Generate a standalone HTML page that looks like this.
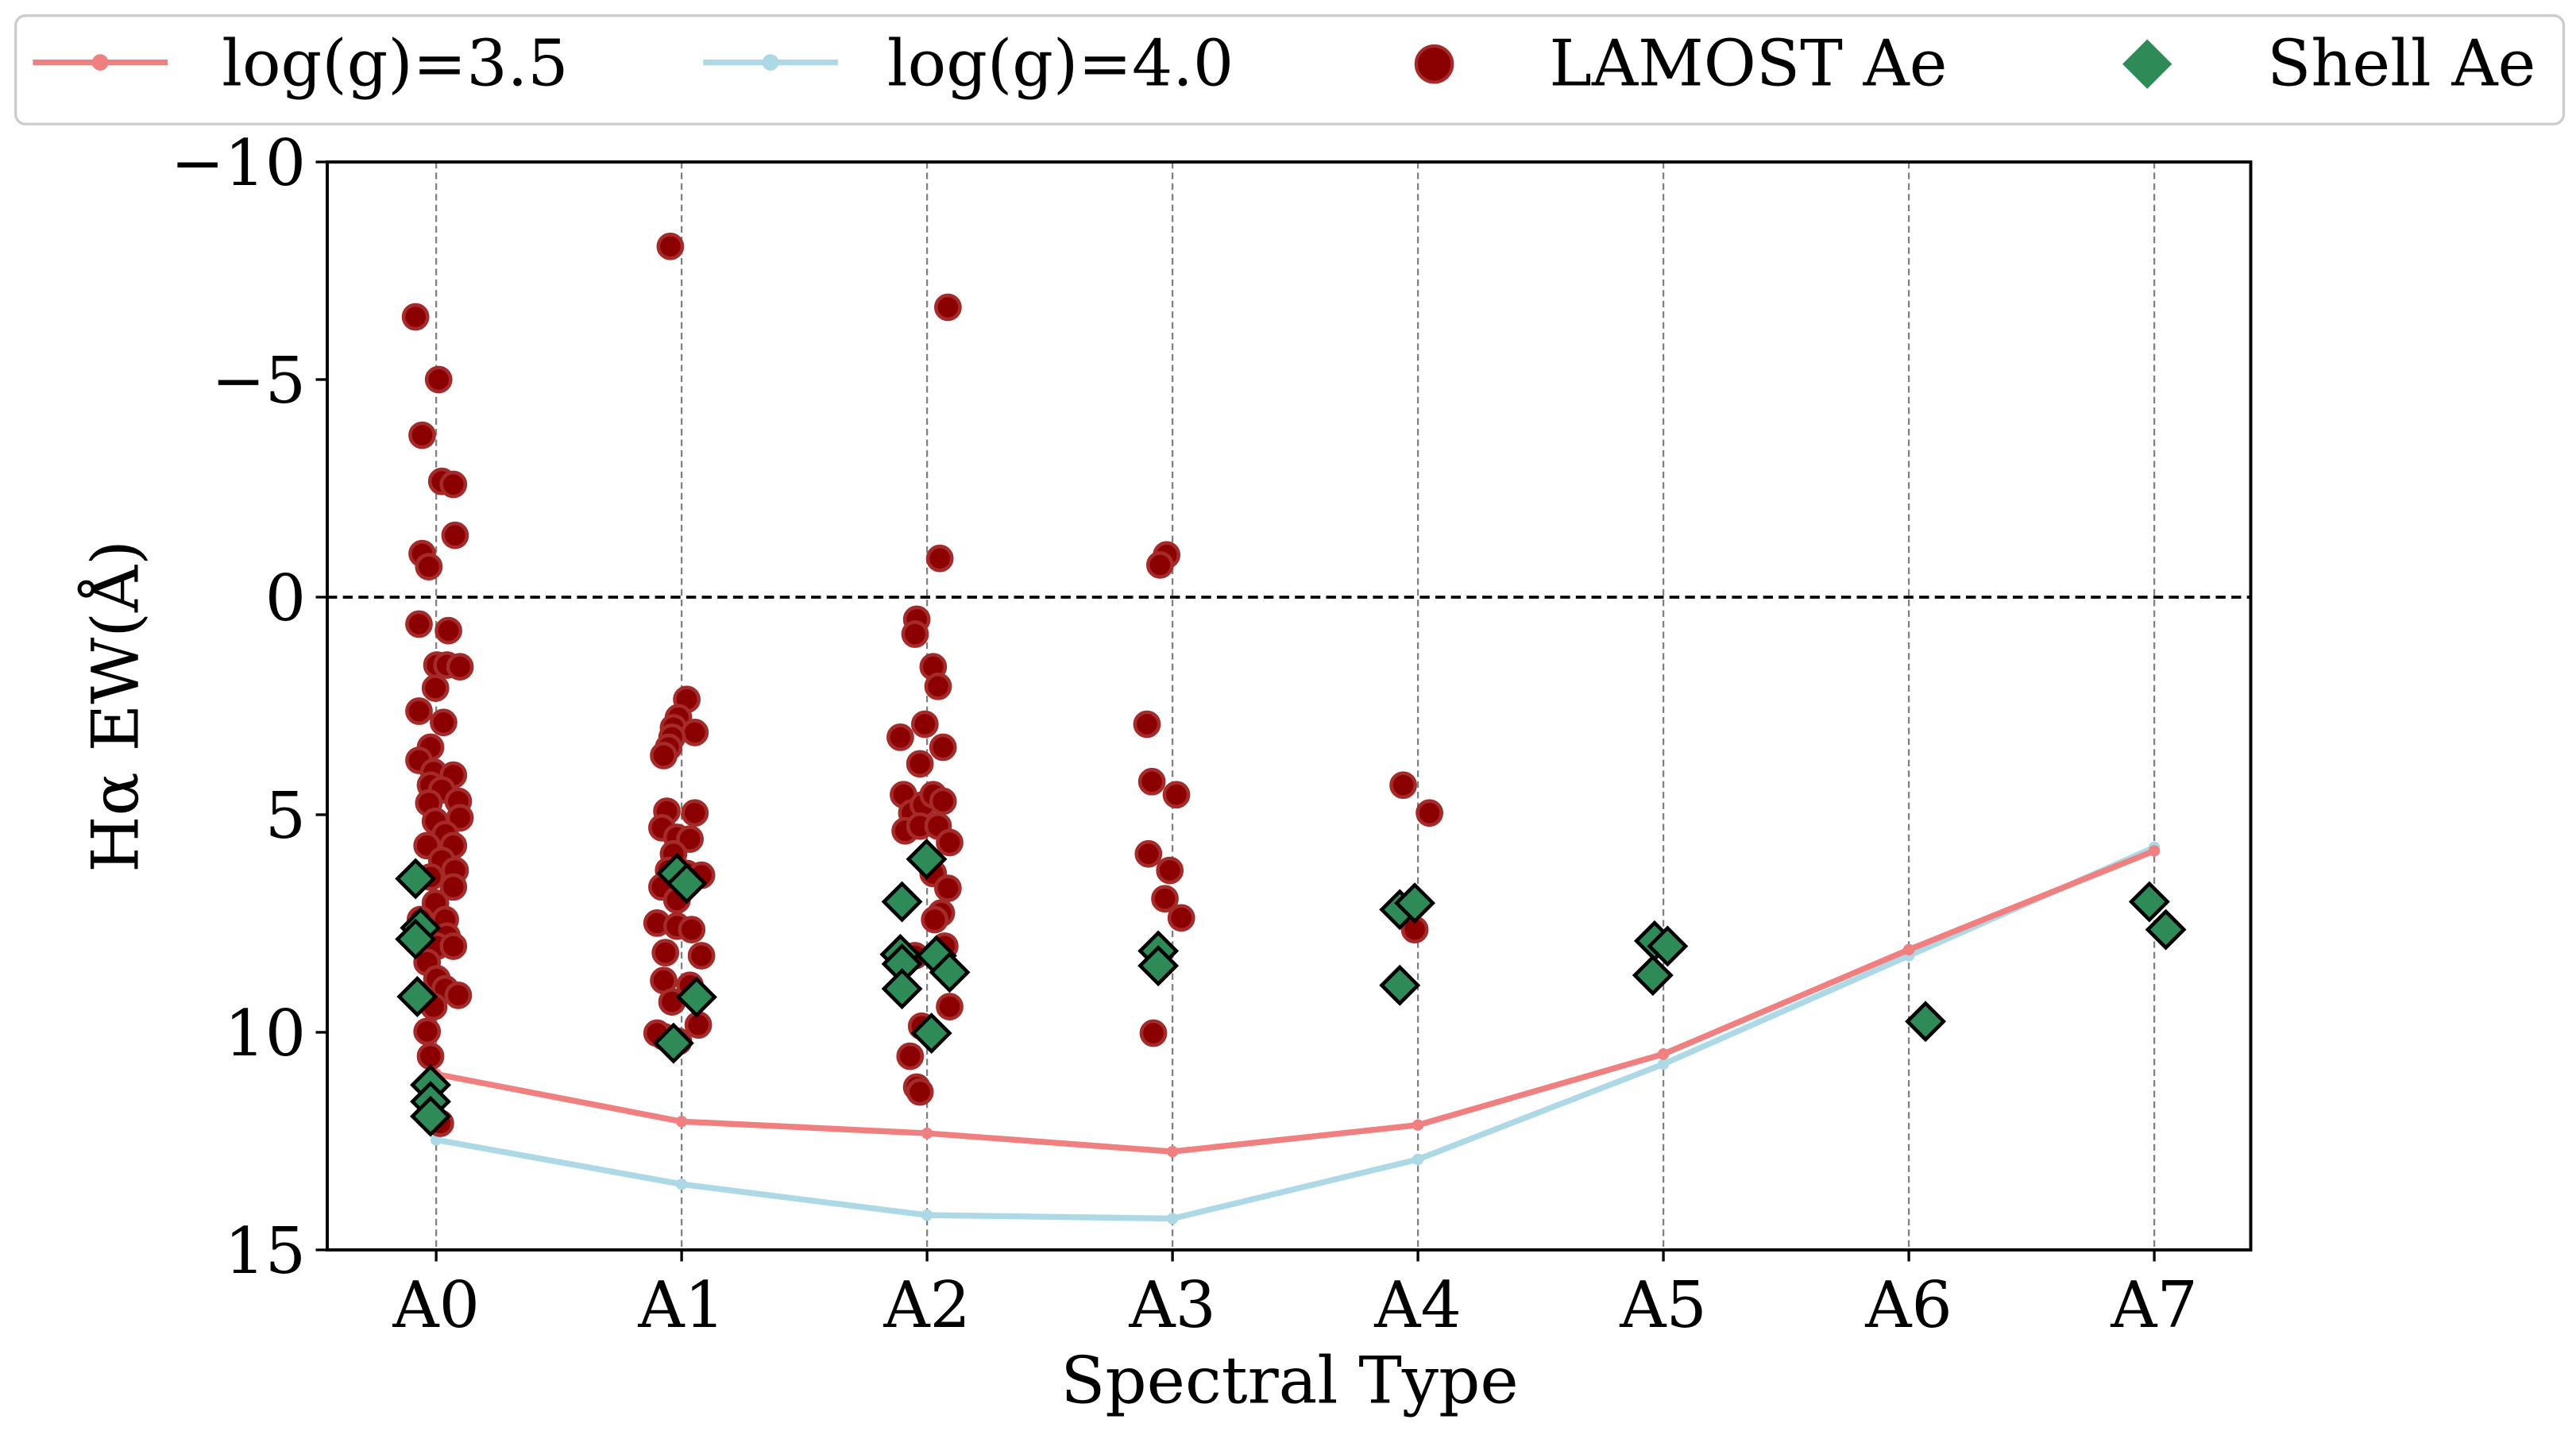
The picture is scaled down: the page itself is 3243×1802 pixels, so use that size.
<!DOCTYPE html>
<html><head><meta charset="utf-8">
<style>html,body{margin:0;padding:0;background:#fff}svg{display:block}text{font-family:"DejaVu Serif","Liberation Serif",serif;fill:#000}</style>
</head><body>
<svg id="chart" xmlns="http://www.w3.org/2000/svg" width="3243" height="1802" viewBox="0 0 1568 871.25">
<rect width="1568" height="871.25" fill="#fff"/>
<g id="grid"></g>
<g id="lines"></g>
<g id="pts"></g>
<rect x="199.2" y="98.6" width="1170.8" height="662.4" fill="none" stroke="#000" stroke-width="1.9"/>
<g id="axes"></g>
<text x="785" y="854" text-anchor="middle" font-size="39.5">Spectral Type</text>
<text transform="translate(84,430) rotate(-90)" text-anchor="middle" font-size="39.5">Hα EW(Å)</text>
<g>
<rect x="9.5" y="9.5" width="1551" height="66" rx="6" fill="#fff" stroke="#ccc" stroke-width="1.6"/>
<g>
<line x1="20" y1="38" x2="102" y2="38" stroke="#f08080" stroke-width="3.5"/><circle cx="61" cy="38" r="5" fill="#f08080"/>
<text x="135" y="52" font-size="39">log(g)=3.5</text></g>
<g>
<line x1="428" y1="38" x2="510" y2="38" stroke="#add8e6" stroke-width="3.5"/><circle cx="469" cy="38" r="5" fill="#add8e6"/>
<text x="540" y="52" font-size="39">log(g)=4.0</text></g>
<g>
<circle cx="873" cy="39" r="11" fill="#8b0000" stroke="#a52a2a" stroke-width="2"/>
<text x="943" y="52" font-size="39">LAMOST Ae</text></g>
<g>
<polygon points="1307,25 1321,39 1307,53 1293,39" fill="#2e8b57" stroke="#2e8b57" stroke-width="1.5"/>
<text x="1380" y="52" font-size="39">Shell Ae</text></g>
</g>
</svg>
<script>
const categories = ["A0","A1","A2","A3","A4","A5","A6","A7"];
const yTicks = [-10,-5,0,5,10,15];
const yTickLabels = ["\u221210","\u22125","0","5","10","15"];
const logg35 = [10.96,12.05,12.32,12.74,12.13,10.5,8.1,5.83];
const logg40 = [12.47,13.49,14.2,14.28,12.92,10.73,8.24,5.75];
const aeX = [-0.084,0.010,-0.057,0.023,0.070,0.077,-0.057,-0.030,-0.070,0.050,0.003,0.044,0.097,-0.003,-0.070,0.030,-0.023,-0.070,-0.010,-0.023,0.070,0.023,0.090,-0.030,0.097,-0.003,0.037,0.070,-0.037,0.023,0.077,-0.023,0.070,-0.003,0.037,-0.064,0.044,0.003,0.070,-0.037,0.003,0.037,0.090,-0.010,-0.037,-0.023,0.017,
0.954,1.021,0.987,0.967,1.054,0.961,0.947,0.927,0.940,1.054,0.920,0.981,1.034,0.967,0.947,1.021,1.081,0.920,0.981,0.900,0.981,1.041,0.934,1.081,0.927,1.034,0.961,1.068,0.927,0.900,0.987,
2.085,2.052,1.958,1.951,2.025,2.045,1.991,1.891,2.065,1.971,1.904,1.938,1.985,2.025,2.065,1.911,1.971,2.045,2.092,2.025,2.085,2.058,1.891,2.031,2.072,2.092,1.951,1.978,1.931,1.958,1.971,
2.976,2.949,2.896,2.916,3.016,2.902,2.989,2.969,3.036,2.922,
3.940,4.047,3.987];
const aeY = [-6.44,-5.0,-3.72,-2.66,-2.59,-1.42,-1.0,-0.7,0.62,0.77,1.56,1.56,1.6,2.09,2.62,2.88,3.45,3.75,4.02,4.32,4.09,4.43,4.69,4.73,5.07,5.15,5.45,5.71,5.71,6.05,6.28,6.43,6.66,7.03,7.41,7.41,7.79,8.02,8.02,8.39,8.77,9.0,9.15,9.41,9.98,10.55,12.09,
-8.06,2.35,2.77,3.0,3.11,3.22,3.45,3.64,4.92,4.96,5.3,5.52,5.56,5.9,6.28,6.35,6.39,6.66,6.96,7.49,7.56,7.64,8.17,8.24,8.81,8.92,9.3,9.83,10.1,10.02,10.21,
-6.66,-0.89,0.51,0.85,1.6,2.05,2.92,3.22,3.45,3.83,4.54,4.96,4.77,4.54,4.69,5.37,5.26,5.26,5.64,6.35,6.69,7.26,8.24,7.41,8.02,9.41,8.24,9.86,10.55,11.26,11.37,
-0.97,-0.74,2.92,4.24,4.54,5.9,6.28,6.93,7.37,10.02,
4.32,4.96,7.64];
const shellX = [-0.084,-0.064,-0.084,-0.077,-0.023,-0.023,-0.023,0.981,1.021,1.061,0.967,1.998,1.898,1.891,1.898,1.898,2.038,2.092,2.018,2.942,2.942,3.926,3.987,3.926,4.964,5.017,4.957,6.068,6.980,7.047];
const shellY = [6.47,7.6,7.86,9.18,11.21,11.59,11.93,6.35,6.58,9.19,10.25,6.02,7.0,8.21,8.43,9.0,8.24,8.62,10.02,8.13,8.47,7.18,7.03,8.92,7.9,8.02,8.69,9.75,7.0,7.64];

const NS="http://www.w3.org/2000/svg";
const L=199.2,R=1370,T=98.6,B=761;
const xS=v=>265.5+v*149.4;
const yS=v=>T+(v+10)*(B-T)/25;
function mk(tag,attrs,parent){const e=document.createElementNS(NS,tag);for(const k in attrs)e.setAttribute(k,attrs[k]);parent.appendChild(e);return e;}
const grid=document.getElementById('grid'),axes=document.getElementById('axes'),lines=document.getElementById('lines'),pts=document.getElementById('pts');
categories.forEach((c,i)=>{
  const g=mk('line',{x1:xS(i),x2:xS(i),y1:T,y2:B,stroke:'#808080','stroke-width':1.1,'stroke-dasharray':'4,2.5'},grid);
  
  
  const t=mk('line',{x1:xS(i),x2:xS(i),y1:B,y2:B+7,stroke:'#000','stroke-width':1.6},axes);
  
  
  const tx=mk('text',{x:xS(i),y:808,'text-anchor':'middle','font-size':39},axes);
  tx.textContent=c;
  
  
});
yTicks.forEach((v,i)=>{
  const t=mk('line',{x1:L-7,x2:L,y1:yS(v),y2:yS(v),stroke:'#000','stroke-width':1.6},axes);
  
  
  const tx=mk('text',{x:L-13,y:yS(v)+14,'text-anchor':'end','font-size':39},axes);
  tx.textContent=yTickLabels[i];
  
  
});
const zl=mk('line',{x1:L,x2:R,y1:yS(0),y2:yS(0),stroke:'#000','stroke-width':1.8,'stroke-dasharray':'6,3.5'},grid);


function series(vals,color,name){
  const p=mk('polyline',{points:vals.map((v,i)=>xS(i)+','+yS(v)).join(' '),fill:'none',stroke:color,'stroke-width':3.6},lines);
  
  
  vals.forEach((v,i)=>{const c=mk('circle',{cx:xS(i),cy:yS(v),r:3.5,fill:color},lines);
    
    });
}
series(logg40,'#add8e6','logg40-line');
series(logg35,'#f08080','logg35-line');
aeX.forEach((x,i)=>{
  const c=mk('circle',{cx:xS(x),cy:yS(aeY[i]),r:7.3,fill:'#8b0000',stroke:'#a52a2a','stroke-width':2.2},pts);
  
  
});
shellX.forEach((x,i)=>{
  const cx=xS(x),cy=yS(shellY[i]),d=11;
  const p=mk('polygon',{points:`${cx},${cy-d} ${cx+d},${cy} ${cx},${cy+d} ${cx-d},${cy}`,fill:'#2e8b57',stroke:'#000','stroke-width':2.2},pts);
  
  
});
</script>
</body></html>
